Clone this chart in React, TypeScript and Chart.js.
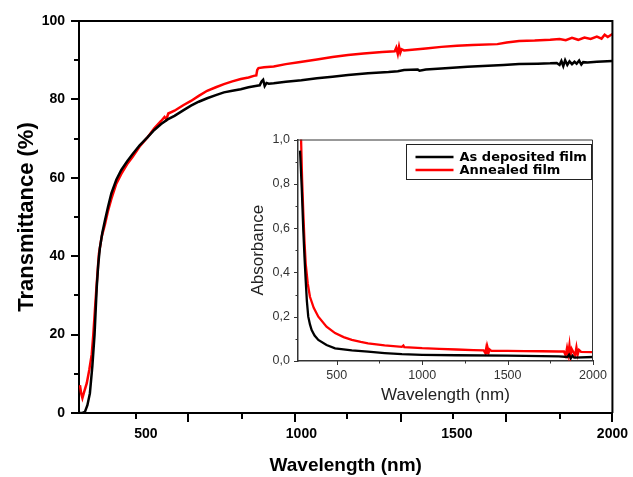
import React, { useEffect, useRef } from 'react';
import { Chart, registerables } from 'chart.js';

Chart.register(...registerables);

// ---- Main chart: transmittance ----
const MAIN_WL_DEP = [288, 296, 304, 312, 320, 328, 335, 342, 347, 352, 360, 368, 378, 389, 405, 421, 440, 457, 480, 505, 527, 549, 570, 592, 620, 645, 670, 697, 725, 751, 778, 805, 830, 857, 866, 872, 877, 882, 888, 895, 911, 950, 1000, 1050, 1100, 1150, 1214, 1280, 1310, 1330, 1374, 1380, 1400, 1450, 1534, 1600, 1650, 1700, 1760, 1800, 1821, 1830, 1836, 1842, 1848, 1855, 1862, 1870, 1878, 1885, 1893, 1900, 1906, 1920, 1950, 2000];
const MAIN_T_DEP = [0, 0, 0.3, 2, 5, 12, 20, 32, 38, 42, 46, 49, 52.5, 56, 59.5, 62, 64.2, 66, 68.3, 70.3, 72.2, 73.7, 74.9, 75.8, 77.2, 78.4, 79.4, 80.3, 81.1, 81.8, 82.2, 82.6, 83.1, 83.5, 83.6, 84.6, 85.0, 83.4, 84.2, 84.0, 84.1, 84.5, 84.9, 85.4, 85.8, 86.2, 86.7, 87.0, 87.2, 87.5, 87.6, 87.3, 87.6, 87.9, 88.3, 88.6, 88.8, 89.0, 89.1, 89.2, 89.3, 88.8, 89.8, 88.5, 90.0, 88.8, 89.7, 89.0, 89.6, 89.1, 89.9, 88.9, 89.5, 89.4, 89.6, 89.8];

const MAIN_WL_ANN = [288, 292, 296, 302, 310, 318, 326, 331, 336, 342, 349, 358, 368, 378, 389, 405, 421, 440, 457, 480, 505, 527, 549, 560, 566, 572, 592, 620, 645, 670, 697, 725, 751, 778, 805, 830, 847, 855, 858, 862, 880, 911, 950, 991, 1050, 1100, 1150, 1200, 1260, 1300, 1305, 1310, 1314, 1318, 1322, 1330, 1400, 1450, 1500, 1550, 1630, 1660, 1700, 1750, 1800, 1830, 1850, 1870, 1890, 1910, 1930, 1950, 1965, 1975, 1985, 2000];
const MAIN_T_ANN = [7.1, 5, 3.8, 5.5, 7.6, 11, 15, 20, 26, 33, 40.6, 45, 48, 51.5, 54.6, 58.5, 61, 63.5, 65.3, 68, 70.3, 72.6, 74.5, 75.5, 74.9, 76.4, 77.1, 78.5, 79.6, 80.9, 82.2, 83.1, 83.9, 84.6, 85.2, 85.6, 86.0, 86.1, 87.5, 88.0, 88.2, 88.4, 89.0, 89.5, 90.2, 90.8, 91.3, 91.7, 92.1, 92.3, 93.2, 91.6, 93.4, 91.9, 92.8, 92.5, 93.0, 93.4, 93.7, 93.9, 94.1, 94.5, 94.9, 95.0, 95.2, 95.4, 95.1, 95.7, 95.2, 95.8, 95.4, 96.0, 95.5, 96.5, 95.9, 96.7];

const MAIN_X_LABEL_TICKS = [500, 1000, 1500, 2000];
const MAIN_X_TICK_MARKS = [467, 637, 808, 978, 1148, 1319, 1489, 1659, 1830, 2000];
const MAIN_X_MAJOR_MARKS = [637, 978, 1319, 1659, 2000];
const MAIN_Y_LABEL_TICKS = [0, 20, 40, 60, 80, 100];
const MAIN_Y_TICK_MARKS = [0, 10, 20, 30, 40, 50, 60, 70, 80, 90, 100];

// ---- Inset chart: absorbance ----
const INSET_WL_DEP = [285, 295, 304, 311, 318, 325, 333, 343, 353, 370, 392, 440, 490, 588, 683, 780, 881, 1000, 1200, 1500, 1800, 1850, 1860, 1870, 1880, 1890, 2000];
const INSET_A_DEP = [0.95, 0.78, 0.59, 0.47, 0.365, 0.27, 0.2, 0.165, 0.14, 0.115, 0.095, 0.072, 0.057, 0.048, 0.042, 0.036, 0.031, 0.028, 0.026, 0.024, 0.021, 0.018, 0.028, 0.012, 0.024, 0.015, 0.018];

const INSET_WL_ANN = [285, 291, 297, 304, 311, 318, 330, 343, 365, 392, 440, 490, 540, 588, 640, 683, 780, 881, 890, 895, 1000, 1100, 1200, 1300, 1360, 1370, 1375, 1380, 1385, 1390, 1395, 1405, 1500, 1600, 1700, 1800, 1830, 1840, 1848, 1855, 1862, 1868, 1875, 1885, 1895, 1903, 1910, 1918, 1930, 2000];
const INSET_A_ANN = [1.4, 1.0, 0.82, 0.67, 0.54, 0.44, 0.35, 0.29, 0.24, 0.2, 0.155, 0.126, 0.108, 0.095, 0.086, 0.08, 0.071, 0.064, 0.07, 0.063, 0.058, 0.055, 0.052, 0.049, 0.048, 0.035, 0.058, 0.036, 0.055, 0.04, 0.052, 0.046, 0.046, 0.045, 0.044, 0.043, 0.043, 0.025, 0.06, 0.03, 0.072, 0.022, 0.055, 0.04, 0.025, 0.062, 0.028, 0.05, 0.041, 0.04];

const INSET_X_LABEL_TICKS = [500, 1000, 1500, 2000];
const INSET_X_TICK_MARKS = [500, 750, 1000, 1250, 1500, 1750, 2000];
const INSET_Y_LABEL_TICKS = [0, 0.2, 0.4, 0.6, 0.8, 1.0];
const INSET_Y_TICK_MARKS = [0, 0.1, 0.2, 0.3, 0.4, 0.5, 0.6, 0.7, 0.8, 0.9, 1.0];

const SERIES_LABELS = ['As deposited film', 'Annealed film'];
const SERIES_COLORS = ['#000000', '#ff0000'];

const pts = (xs: number[], ys: number[]) => xs.map((x, i) => ({ x, y: ys[i] }));

const FONT = "'Liberation Sans', Arial, sans-serif";

export default function App() {
  const mainRef = useRef<HTMLCanvasElement>(null);
  const insetRef = useRef<HTMLCanvasElement>(null);

  useEffect(() => {
    const mainTicks = {
      id: 'mainTicks',
      afterDraw(chart: any) {
        const { ctx, chartArea } = chart;
        const xs = chart.scales.x;
        const ys = chart.scales.y;
        ctx.save();
        ctx.strokeStyle = '#000';
        ctx.lineWidth = 2;
        ctx.beginPath();
        ctx.moveTo(chartArea.left, chartArea.top);
        ctx.lineTo(chartArea.right, chartArea.top);
        ctx.lineTo(chartArea.right, chartArea.bottom);
        ctx.stroke();
        ctx.beginPath();
        MAIN_X_TICK_MARKS.forEach((v) => {
          const px = Math.round(xs.getPixelForValue(v));
          const len = MAIN_X_MAJOR_MARKS.includes(v) ? 9 : 6;
          ctx.moveTo(px, chartArea.bottom);
          ctx.lineTo(px, chartArea.bottom + len);
        });
        MAIN_Y_TICK_MARKS.forEach((v) => {
          const py = Math.round(ys.getPixelForValue(v));
          const len = MAIN_Y_LABEL_TICKS.includes(v) ? 8 : 5;
          ctx.moveTo(chartArea.left, py);
          ctx.lineTo(chartArea.left - len, py);
        });
        ctx.stroke();
        ctx.restore();
      },
    };

    const main = new Chart(mainRef.current as HTMLCanvasElement, {
      type: 'line',
      data: {
        datasets: [
          {
            label: SERIES_LABELS[0],
            data: pts(MAIN_WL_DEP, MAIN_T_DEP),
            borderColor: SERIES_COLORS[0],
            borderWidth: 2.5,
            pointRadius: 0,
            tension: 0,
          },
          {
            label: SERIES_LABELS[1],
            data: pts(MAIN_WL_ANN, MAIN_T_ANN),
            borderColor: SERIES_COLORS[1],
            borderWidth: 2.5,
            pointRadius: 0,
            tension: 0,
          },
        ],
      },
      options: {
        responsive: false,
        animation: false,
        layout: { padding: { left: 0, right: 18, top: 21, bottom: 0 } },
        plugins: { legend: { display: false }, tooltip: { enabled: false } },
        scales: {
          x: {
            type: 'linear',
            min: 285,
            max: 2000,
            afterFit: (s: any) => { s.height = 64; },
            afterBuildTicks: (s: any) => { s.ticks = MAIN_X_LABEL_TICKS.map((v) => ({ value: v })); },
            ticks: {
              font: { family: FONT, size: 14, weight: 'bold' },
              color: '#000',
              padding: 5,
              maxRotation: 0,
              callback: (v: any) => String(v),
            },
            grid: { display: true, drawOnChartArea: false, drawTicks: true, tickLength: 8, color: 'rgba(0,0,0,0)' },
            border: { display: true, color: '#000', width: 2 },
            title: {
              display: true,
              text: 'Wavelength (nm)',
              font: { family: FONT, size: 19, weight: 'bold' },
              color: '#000',
              padding: { top: 0, bottom: 0 },
            },
          },
          y: {
            type: 'linear',
            min: 0,
            max: 100,
            afterFit: (s: any) => { s.width = 79; },
            afterBuildTicks: (s: any) => { s.ticks = MAIN_Y_LABEL_TICKS.map((v) => ({ value: v })); },
            ticks: { font: { family: FONT, size: 14, weight: 'bold' }, color: '#000', padding: 5, callback: (v: any) => String(v) },
            grid: { display: true, drawOnChartArea: false, drawTicks: true, tickLength: 9, color: 'rgba(0,0,0,0)' },
            border: { display: true, color: '#000', width: 2 },
            title: {
              display: true,
              text: 'Transmittance (%)',
              font: { family: FONT, size: 22, weight: 'bold' },
              color: '#000',
              padding: { top: 14, bottom: 0 },
            },
          },
        },
      },
      plugins: [mainTicks],
    } as any);

    const insetDecor = {
      id: 'insetDecor',
      afterDraw(chart: any) {
        const { ctx, chartArea } = chart;
        const xs = chart.scales.x;
        const ys = chart.scales.y;
        ctx.save();
        ctx.strokeStyle = '#333';
        ctx.lineWidth = 1;
        ctx.beginPath();
        ctx.moveTo(chartArea.left, chartArea.top + 0.5);
        ctx.lineTo(chartArea.right - 0.5, chartArea.top + 0.5);
        ctx.lineTo(chartArea.right - 0.5, chartArea.bottom);
        ctx.stroke();
        ctx.beginPath();
        INSET_X_TICK_MARKS.forEach((v) => {
          const px = Math.round(xs.getPixelForValue(v)) + 0.5;
          const len = INSET_X_LABEL_TICKS.includes(v) ? 4 : 2.5;
          ctx.moveTo(px, chartArea.bottom);
          ctx.lineTo(px, chartArea.bottom + len);
        });
        INSET_Y_TICK_MARKS.forEach((v, i) => {
          const py = Math.round(ys.getPixelForValue(v)) + 0.5;
          const len = i % 2 === 0 ? 4 : 2.5;
          ctx.moveTo(chartArea.left, py);
          ctx.lineTo(chartArea.left - len, py);
        });
        ctx.stroke();

        // legend
        const bw = 185;
        const bh = 35;
        const bx = Math.round(chartArea.right - 2 - bw) + 0.5;
        const by = Math.round(chartArea.top + 4) + 0.5;
        ctx.fillStyle = '#fff';
        ctx.fillRect(bx, by, bw, bh);
        ctx.strokeStyle = '#222';
        ctx.lineWidth = 1;
        ctx.strokeRect(bx, by, bw, bh);
        ctx.font = "bold 13px 'DejaVu Sans', sans-serif";
        ctx.textBaseline = 'middle';
        ctx.textAlign = 'left';
        chart.data.datasets.forEach((ds: any, i: number) => {
          const cy = by + 12.5 + i * 13;
          ctx.strokeStyle = ds.borderColor;
          ctx.lineWidth = 2.5;
          ctx.beginPath();
          ctx.moveTo(bx + 9, cy);
          ctx.lineTo(bx + 47, cy);
          ctx.stroke();
          ctx.fillStyle = '#000';
          ctx.fillText(ds.label, bx + 53, cy + 0.5);
        });
        ctx.restore();
      },
    };

    const inset = new Chart(insetRef.current as HTMLCanvasElement, {
      type: 'line',
      data: {
        datasets: [
          {
            label: SERIES_LABELS[0],
            data: pts(INSET_WL_DEP, INSET_A_DEP),
            borderColor: SERIES_COLORS[0],
            borderWidth: 2.3,
            pointRadius: 0,
            tension: 0,
          },
          {
            label: SERIES_LABELS[1],
            data: pts(INSET_WL_ANN, INSET_A_ANN),
            borderColor: SERIES_COLORS[1],
            borderWidth: 2.3,
            pointRadius: 0,
            tension: 0,
          },
        ],
      },
      options: {
        responsive: false,
        animation: false,
        layout: { padding: { left: 0, right: 17, top: 11, bottom: 0 } },
        plugins: { legend: { display: false }, tooltip: { enabled: false } },
        scales: {
          x: {
            type: 'linear',
            min: 273,
            max: 2000,
            afterFit: (s: any) => { s.height = 47; },
            afterBuildTicks: (s: any) => { s.ticks = INSET_X_LABEL_TICKS.map((v) => ({ value: v })); },
            ticks: {
              font: { family: FONT, size: 12.5 },
              color: '#333',
              padding: 3,
              maxRotation: 0,
              callback: (v: any) => String(v),
            },
            grid: { display: true, drawOnChartArea: false, drawTicks: true, tickLength: 4, color: 'rgba(0,0,0,0)' },
            border: { display: true, color: '#333', width: 1.5 },
            title: {
              display: true,
              text: 'Wavelength (nm)',
              font: { family: FONT, size: 17 },
              color: '#222',
              padding: { top: 0, bottom: 2 },
            },
          },
          y: {
            type: 'linear',
            min: 0,
            max: 1,
            afterFit: (s: any) => { s.width = 58; },
            afterBuildTicks: (s: any) => { s.ticks = INSET_Y_LABEL_TICKS.map((v) => ({ value: v })); },
            ticks: {
              font: { family: FONT, size: 12.5 },
              color: '#333',
              padding: 4,
              callback: (v: any) => Number(v).toFixed(1).replace('.', ','),
            },
            grid: { display: true, drawOnChartArea: false, drawTicks: true, tickLength: 4, color: 'rgba(0,0,0,0)' },
            border: { display: true, color: '#333', width: 1.5 },
            title: {
              display: true,
              text: 'Absorbance',
              font: { family: FONT, size: 17 },
              color: '#222',
              padding: { top: 8, bottom: 0 },
            },
          },
        },
      },
      plugins: [insetDecor],
    } as any);

    return () => {
      main.destroy();
      inset.destroy();
    };
  }, []);

  return (
    <div style={{ position: 'fixed', left: 0, top: 0, width: 633, height: 477, background: '#fff' }}>
      <canvas ref={mainRef} width={633} height={477} style={{ position: 'absolute', left: 0, top: 0, width: 633, height: 477 }} />
      <canvas ref={insetRef} width={370} height={280} style={{ position: 'absolute', left: 240, top: 128, width: 370, height: 280 }} />
    </div>
  );
}
